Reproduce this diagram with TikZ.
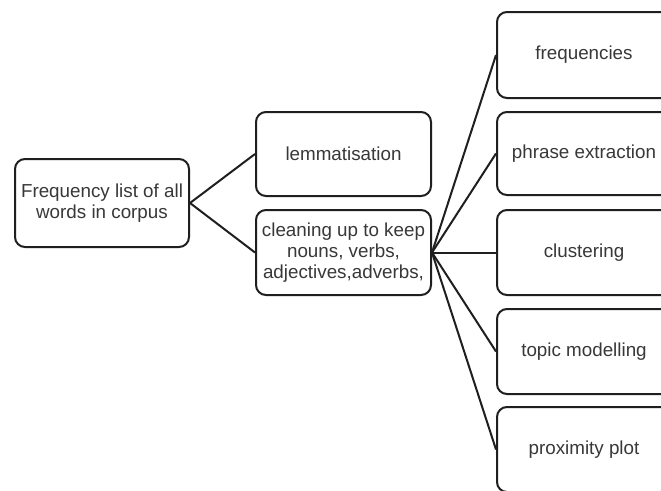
\documentclass[tikz,border=0pt]{standalone}
\usepackage{fontspec}
\setmainfont{Liberation Sans}
\begin{document}
\begin{tikzpicture}[x=0.75pt,y=-0.75pt,
  box/.style={draw=black!88, line width=1.5pt, rounded corners=7.5pt, fill=white,
    text=black!78, font=\fontsize{14.1}{15.8}\selectfont, align=center,
    minimum width=130.5pt, inner sep=0pt},
  link/.style={draw=black!88, line width=1.5pt}]
\useasboundingbox (0,0) rectangle (661,490);
\clip (0,0) rectangle (661,490);
\fill[white] (0,0) rectangle (661,490);
\node[box, minimum height=66pt] (root) at (102,203) {Frequency list of all\\words in corpus};
\node[box, minimum height=63pt, minimum width=131.25pt] (lem) at (343.5,154) {lemmatisation};
\node[box, minimum height=63.75pt, minimum width=131.25pt] (clean) at (343.5,252.5) {cleaning up to keep\\nouns, verbs,\\adjectives,adverbs,};
\node[box, minimum height=64.5pt] (freq) at (584,55) {frequencies};
\node[box, minimum height=62.25pt] (phr) at (584,153.5) {phrase extraction};
\node[box, minimum height=63.75pt] (clu) at (584,252.5) {clustering};
\node[box, minimum height=63.75pt] (top) at (584,351.5) {topic modelling};
\node[box, minimum height=63.75pt] (prox) at (584,449.5) {proximity plot};
\draw[link] (root.east) -- (lem.west);
\draw[link] (root.east) -- (clean.west);
\foreach \t in {freq,phr,clu,top,prox}
  \draw[link] (clean.east) -- (\t.west);
\end{tikzpicture}
\end{document}
